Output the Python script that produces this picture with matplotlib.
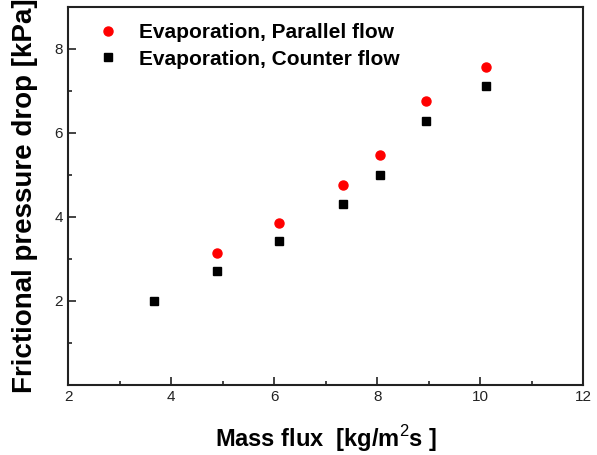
import matplotlib
matplotlib.use("Agg")
import matplotlib.pyplot as plt
from matplotlib.ticker import MultipleLocator

# mass flux [kg/m2s]
flux_par = [4.9, 6.1, 7.33, 8.05, 8.95, 10.12]
dp_par = [3.15, 3.85, 4.75, 5.47, 6.76, 7.57]

flux_cnt = [3.66, 4.9, 6.1, 7.33, 8.05, 8.95, 10.12]
dp_cnt = [2.0, 2.7, 3.42, 4.3, 5.0, 6.29, 7.12]

plt.rcParams['font.family'] = ['Liberation Sans', 'DejaVu Sans']
plt.rcParams['mathtext.fontset'] = 'custom'
plt.rcParams['mathtext.rm'] = 'Liberation Sans'

fig = plt.figure(figsize=(5.97, 4.55), dpi=100)
ax = fig.add_axes([0.114, 0.154, 0.863, 0.831])

ax.plot(flux_par, dp_par, 'o', color='red', markersize=6.5, label='Evaporation, Parallel flow')
ax.plot(flux_cnt, dp_cnt, 's', color='black', markersize=6, label='Evaporation, Counter flow')

ax.set_xlim(2, 12)
ax.set_ylim(0, 9)
ax.xaxis.set_major_locator(MultipleLocator(2))
ax.xaxis.set_minor_locator(MultipleLocator(1))
ax.set_yticks([2, 4, 6, 8])
ax.yaxis.set_minor_locator(MultipleLocator(1))
ax.tick_params(which='both', direction='in', labelsize=11, width=1.2, colors='#222222')
ax.tick_params(which='major', length=6)
ax.tick_params(which='minor', length=3)
for s in ax.spines.values():
    s.set_linewidth(1.5)
    s.set_color('#222222')

ax.set_xlabel(r'Mass flux  [kg/m$^{\rm 2}$s ]', fontsize=17, fontweight='bold', labelpad=14)
ax.set_ylabel('Frictional pressure drop [kPa]', fontsize=20, fontweight='bold', labelpad=12)

ax.legend(loc='upper left', frameon=False, prop={'weight': 'bold', 'size': 15},
          handletextpad=0.5, borderaxespad=0.4, labelspacing=0.35, bbox_to_anchor=(0.005, 1.0))

fig.savefig('out.png', dpi=100)
